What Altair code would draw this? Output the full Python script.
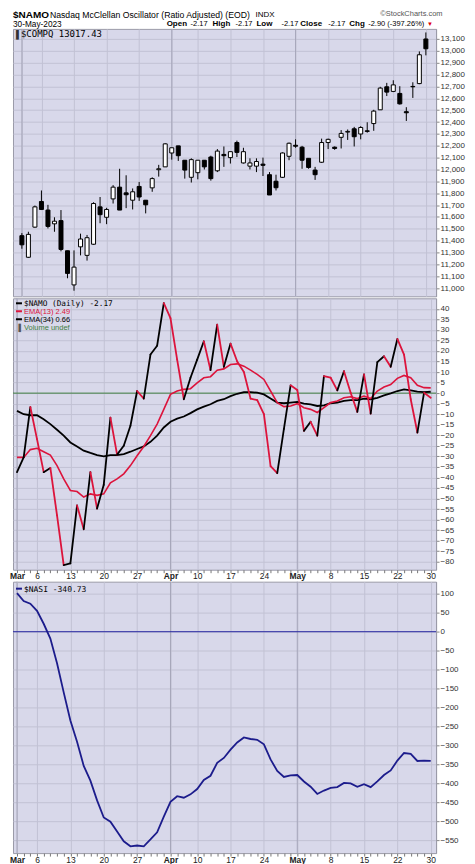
import altair as alt
import pandas as pd

# ---------------- data ----------------
tick_idx = [0, 3, 8, 13, 18, 23, 27, 32, 37, 42, 47, 52, 57, 62]
tick_lab = ['Mar', '6', '13', '20', '27', 'Apr', '10', '17', '24', 'May', '8', '15', '22', '30']
month_idx = [0, 23, 42]

openp = [11442, 11260, 11514, 11730, 11658, 11542, 11569, 11315, 11027, 11348, 11276, 11370, 11685, 11597,
         11752, 11851, 11803, 11741, 11857, 11741, 11845, 11998, 12022, 12139, 12199, 12078, 11934, 11973,
         12078, 12105, 11989, 12127, 12100, 12227, 12055, 12028, 12028, 12045, 11956, 11901, 11934, 12111,
         12204, 12188, 12094, 11995, 12061, 12227, 12188, 12271, 12315, 12343, 12299, 12326, 12387, 12503,
         12697, 12658, 12641, 12487, 12700, 12724, 13100]
highp = [11464, 11475, 11696, 11823, 11702, 11597, 11658, 11315, 11318, 11459, 11448, 11724, 11768, 11677,
         11868, 12006, 11951, 11840, 11895, 11741, 11934, 12039, 12221, 12183, 12199, 12078, 12094, 12078,
         12078, 12116, 12172, 12194, 12150, 12243, 12183, 12094, 12094, 12100, 11978, 11956, 12144, 12227,
         12254, 12199, 12094, 12022, 12260, 12260, 12194, 12332, 12337, 12359, 12365, 12398, 12503, 12697,
         12730, 12752, 12702, 12525, 12735, 12995, 13155]
lowp = [11332, 11255, 11509, 11658, 11503, 11475, 11310, 11083, 10978, 11276, 11232, 11365, 11547, 11539,
        11713, 11658, 11674, 11663, 11735, 11630, 11812, 11940, 12022, 12083, 12072, 11923, 11890, 11917,
        12000, 11906, 11978, 12022, 12050, 12105, 12050, 12000, 11978, 11945, 11785, 11823, 11928, 12078,
        12183, 12006, 12006, 11912, 12055, 12172, 12166, 12177, 12249, 12194, 12254, 12310, 12326, 12503,
        12619, 12652, 12547, 12409, 12603, 12719, 12962]
closep = [11365, 11453, 11685, 11663, 11520, 11564, 11326, 11124, 11177, 11414, 11425, 11713, 11619, 11663,
          11851, 11658, 11787, 11812, 11768, 11702, 11923, 12006, 12216, 12183, 12116, 11995, 12083, 12078,
          12022, 11923, 12155, 12116, 12150, 12144, 12150, 12055, 12067, 12035, 11785, 11846, 12139, 12221,
          12196, 12078, 12017, 11956, 12227, 12254, 12177, 12304, 12321, 12276, 12354, 12321, 12492, 12686,
          12652, 12713, 12553, 12478, 12697, 12967, 13017.43]

namo = [-37.5, -30.5, -6.6, -21.8, -37.5, -35.5, -58.0, -81.6, -80.8, -53.3, -64.6, -37.5, -54.8, -43.5,
        -11.6, -29.2, -25.0, -15.5, 1.0, -2.6, 18.3, 22.5, 42.7, 35.6, 15.9, -2.9, 7.3, 15.9, 24.6, 10.9,
        32.5, 12.5, 23.5, 15.0, 10.0, -2.6, -3.3, -10.0, -34.7, -38.0, -17.0, 3.7, 1.5, -17.9, -13.6, -20.2,
        8.1, 7.3, 1.3, 10.4, 0.2, -8.9, 8.9, -9.7, 14.7, 17.5, 12.5, 25.7, 18.3, -2.9, -18.7, 0.2, -2.17]
ema13 = [-30.5, -30.5, -26.8, -26.2, -27.8, -29.4, -34.4, -40.7, -46.2, -46.7, -49.3, -47.8, -48.5, -47.8,
         -42.6, -40.7, -38.3, -34.4, -29.7, -25.3, -20.2, -14.7, -7.7, -0.6, 1.0, 1.8, 2.1, 4.9, 7.3, 7.8,
         10.9, 11.5, 13.6, 13.9, 12.8, 10.9, 8.9, 6.5, 1.0, -4.5, -6.4, -6.1, -5.0, -6.9, -7.7, -9.2, -6.9,
         -4.5, -3.7, -2.2, -1.7, -2.6, -1.4, -2.6, 1.0, 2.9, 4.1, 7.0, 8.4, 7.3, 3.7, 2.6, 2.49]
ema34 = [-8.4, -10.0, -10.5, -10.5, -12.4, -14.7, -17.4, -20.2, -23.4, -25.3, -27.3, -28.4, -29.4, -30.0,
         -29.4, -29.4, -28.9, -27.8, -26.5, -25.3, -23.1, -20.2, -16.3, -13.6, -12.1, -11.1, -9.5, -7.7, -6.4,
         -5.3, -3.7, -2.9, -1.4, -0.3, 0.5, 0.5, 0.2, -0.6, -2.6, -4.5, -4.8, -4.5, -4.2, -5.0, -5.3, -6.1,
         -5.8, -4.8, -4.5, -3.7, -3.3, -3.3, -2.6, -2.9, -2.2, -1.1, -0.1, 1.0, 1.8, 1.3, 0.7, 0.5, 0.66]
nasi = [102, 81, 74, 55, 21, -18, -83, -160, -234, -290, -354, -393, -445, -490, -501, -527, -553, -566,
        -564, -566, -548, -529, -488, -449, -434, -438, -429, -415, -391, -380, -346, -333, -311, -292, -279,
        -283, -285, -297, -337, -367, -383, -379, -378, -395, -409, -428, -419, -412, -410, -399, -400, -409,
        -402, -410, -395, -378, -366, -340, -320, -322, -341, -340, -340.73]

price_ticks = list(range(11000, 13101, 100))
namo_ticks = list(range(-80, 41, 5))
nasi_ticks = list(range(-550, 101, 50))

# ---------------- helpers ----------------
N = len(closep)
idx = list(range(N))
labels_all = [''] * N
for i, l in zip(tick_idx, tick_lab):
    labels_all[i] = l
label_expr = "[" + ",".join("'" + l + "'" for l in labels_all) + "][datum.value]"
week_list = "[" + ",".join(str(i) for i in tick_idx) + "]"
month_list = "[" + ",".join(str(i) for i in month_idx) + "]"

W = 424
H1, H2, H3 = 268, 272, 272
BG = "#d8d8ea"
GRID = "#c2c2d4"
MONTH = "#a6a6ba"
RED = "#dc143c"
SANS = "Liberation Sans"
MONO = "DejaVu Sans Mono"

xscale = alt.Scale(domain=[-0.6, 62.8], nice=False, zero=False)
grid_cond = {"condition": {"test": f"indexof({week_list}, datum.value) >= 0", "value": GRID},
             "value": "transparent"}
bold_cond = {"condition": {"test": f"indexof({month_list}, datum.value) >= 0", "value": "bold"},
             "value": "normal"}

axis_x_nolab = alt.Axis(values=idx, labels=False, ticks=False, domain=False, grid=True,
                        gridColor=grid_cond, title=None)
axis_x_lab = alt.Axis(values=idx, labelExpr=label_expr, labelOverlap=False, labelFlush=False,
                      labelFontSize=8.5, labelFont=SANS, labelColor="#222", labelFontWeight=bold_cond,
                      tickSize=3, tickColor="#777", labelPadding=-1, domain=False, grid=True,
                      gridColor=grid_cond, title=None)


def yaxis(vals):
    return alt.Axis(orient="right", values=vals, labelFontSize=8, labelFont=SANS, labelColor="#333",
                    tickSize=3, tickColor="#888", labelPadding=1, domainColor="#9a9aa8",
                    grid=True, gridColor=GRID, title=None, labelOverlap=False, labelFlush=False)


def txt(t, x, y, size, weight="normal", color="#000", font=SANS, baseline="alphabetic"):
    return alt.Chart(pd.DataFrame({"t": [t]})).mark_text(
        align="left", baseline=baseline, fontSize=size, fontWeight=weight, color=color, font=font
    ).encode(text="t:N", x=alt.value(x), y=alt.value(y))


def htxt(t, x, y, size, weight="normal", color="#000"):
    return txt(t, x, y, size, weight, color, SANS, "top")


def dash(x1, x2, y, color, w=2):
    return alt.Chart(pd.DataFrame({"a": [0]})).mark_rule(color=color, strokeWidth=w).encode(
        x=alt.value(x1), x2=alt.value(x2), y=alt.value(y))


def month_rules(xaxis):
    return alt.Chart(pd.DataFrame({"m": month_idx})).mark_rule(color=MONTH, strokeWidth=1).encode(
        x=alt.X("m:Q", scale=xscale, axis=xaxis))


# ---------------- panel 1: $COMPQ candles ----------------
price = pd.DataFrame({"i": idx, "open": openp, "high": highp, "low": lowp, "close": closep})
pscale = alt.Scale(domain=[10931, 13185], nice=False, zero=False)
pax = yaxis(price_ticks)

wicks = alt.Chart(price).mark_rule(color="#000", strokeWidth=1).encode(
    x=alt.X("i:Q", scale=xscale, axis=axis_x_nolab),
    y=alt.Y("low:Q", scale=pscale, axis=pax), y2="high:Q")
bodies = alt.Chart(price).mark_bar(width=4, stroke="#000", strokeWidth=1).encode(
    x=alt.X("i:Q", scale=xscale, axis=axis_x_nolab),
    y=alt.Y("open:Q", scale=pscale, axis=pax), y2="close:Q",
    fill=alt.condition("datum.close >= datum.open", alt.value("#ffffff"), alt.value("#000000")))

L1, L2 = -19, -9
header = [
    htxt("$NAMO", 0, L1, 10, "bold"),
    htxt("Nasdaq McClellan Oscillator (Ratio Adjusted) (EOD)", 37, L1 + 1, 8.7),
    htxt("INDX", 243, L1 + 1.5, 8),
    htxt("\u00a9StockCharts.com", 368, L1, 7.5, color="#555"),
    htxt("30-May-2023", 0, L2, 8.3),
    htxt("Open", 154, L2, 8, "bold"), htxt("-2.17", 178, L2 + 0.5, 7.5),
    htxt("High", 200, L2, 8, "bold"), htxt("-2.17", 223, L2 + 0.5, 7.5),
    htxt("Low", 244, L2, 8, "bold"), htxt("-2.17", 269, L2 + 0.5, 7.5),
    htxt("Close", 288, L2, 8, "bold"), htxt("-2.17", 316, L2 + 0.5, 7.5),
    htxt("Chg", 337, L2, 8, "bold"), htxt("-2.90 (-397.26%)", 356, L2 + 0.5, 7.5),
    htxt("\u25bc", 415, L2 + 1, 6, color="#e00000"),
]
p1 = alt.layer(month_rules(axis_x_nolab), wicks, bodies,
               txt("\u258c", 3, 8, 8, color="#333"),
               txt("$COMPQ 13017.43", 8, 8, 9, font=MONO),
               *header).properties(width=W, height=H1)

# ---------------- panel 2: $NAMO ----------------
ndf = pd.DataFrame({"i": idx, "namo": namo, "ema13": ema13, "ema34": ema34})
seg = pd.DataFrame({"i": idx[:-1], "i2": idx[1:], "v": namo[:-1], "v2": namo[1:]})
nscale = alt.Scale(domain=[-83.8, 45], nice=False, zero=False)
nax = yaxis(namo_ticks)

zero2 = alt.Chart(pd.DataFrame({"z": [0]})).mark_rule(color="#3f7f3f", strokeWidth=1).encode(
    y=alt.Y("z:Q", scale=nscale, axis=nax))
l34 = alt.Chart(ndf).mark_line(color="#000", strokeWidth=1.8).encode(
    x=alt.X("i:Q", scale=xscale, axis=axis_x_lab), y=alt.Y("ema34:Q", scale=nscale, axis=nax))
l13 = alt.Chart(ndf).mark_line(color=RED, strokeWidth=1.6).encode(
    x=alt.X("i:Q", scale=xscale, axis=axis_x_lab), y=alt.Y("ema13:Q", scale=nscale, axis=nax))
segs = alt.Chart(seg).mark_rule(strokeWidth=1.8, strokeCap="round").encode(
    x=alt.X("i:Q", scale=xscale, axis=axis_x_lab), x2="i2:Q",
    y=alt.Y("v:Q", scale=nscale, axis=nax), y2="v2:Q",
    color=alt.condition("datum.v2 >= datum.v", alt.value("#000000"), alt.value(RED)))

p2 = alt.layer(month_rules(axis_x_lab), zero2, l34, l13, segs,
               dash(3, 9, 5, "#000"), txt("$NAMO (Daily) -2.17", 11, 8, 7.8, font=MONO),
               dash(3, 9, 13, RED), txt("EMA(13) 2.49", 11, 16, 7.5, color=RED),
               dash(3, 9, 21, "#000"), txt("EMA(34) 0.66", 11, 24, 7.5),
               txt("\u2590", 3, 32, 7, color="#555"), txt("Volume undef", 11, 32, 7.5, color="#3f7f3f"),
               ).properties(width=W, height=H2)

# ---------------- panel 3: $NASI ----------------
sdf = pd.DataFrame({"i": idx, "nasi": nasi})
sscale = alt.Scale(domain=[-584, 132], nice=False, zero=False)
sax = yaxis(nasi_ticks)
zero3 = alt.Chart(pd.DataFrame({"z": [0]})).mark_rule(color="#2323a0", strokeWidth=1).encode(
    y=alt.Y("z:Q", scale=sscale, axis=sax))
lnasi = alt.Chart(sdf).mark_line(color="#1c1c8c", strokeWidth=1.8).encode(
    x=alt.X("i:Q", scale=xscale, axis=axis_x_lab), y=alt.Y("nasi:Q", scale=sscale, axis=sax))
p3 = alt.layer(month_rules(axis_x_lab), zero3, lnasi,
               dash(3, 9, 7, "#1c1c8c"), txt("$NASI -340.73", 11, 10, 8, font=MONO),
               ).properties(width=W, height=H3)

chart = alt.vconcat(p1, p2, p3, spacing=0).properties(
    padding={"left": 0, "top": 0, "right": 2, "bottom": 0}, background="#ffffff"
).configure_view(fill=BG, stroke="#9a9aa8", strokeWidth=1)

chart.save("out.html", embed_options={"renderer": "svg", "actions": False})
